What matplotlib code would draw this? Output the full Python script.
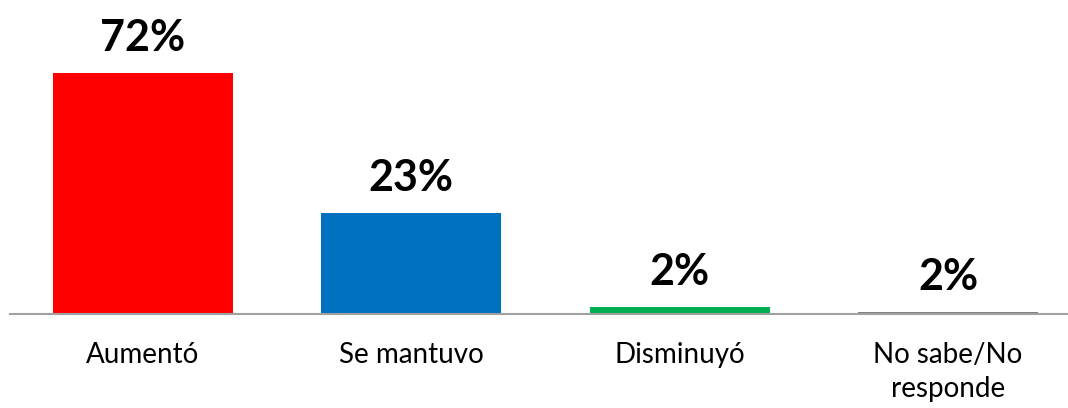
import matplotlib
matplotlib.use("Agg")
import matplotlib.pyplot as plt

categories = ["Aumentó", "Se mantuvo", "Disminuyó", "No sabe/No\nresponde"]
# bar heights as drawn in the picture (percent)
heights = [72, 30.2, 2.1, 0.6]
value_labels = ["72%", "23%", "2%", "2%"]
colors = ["#ff0000", "#0070c0", "#00b050", "#808080"]

plt.rcParams["font.family"] = ["Lato", "DejaVu Sans"]

fig = plt.figure(figsize=(10.68, 4.08), dpi=100)
ax = fig.add_axes([10 / 1068, 94 / 408, 1 - 10 / 1068, 314 / 408])

x = range(len(categories))
bars = ax.bar(x, heights, width=0.67, color=colors, zorder=2)

for b, lab in zip(bars, value_labels):
    ax.annotate(lab, (b.get_x() + b.get_width() / 2, b.get_height()),
                xytext=(0, 16), textcoords="offset points",
                ha="center", va="baseline", fontsize=31, fontweight="bold")

ax.set_xlim(-0.495, 3.447)
ax.set_ylim(0, 93.8)
ax.set_xticks(list(x))
ax.set_xticklabels(categories, fontsize=20, linespacing=1.4, va="top")
ax.tick_params(axis="x", length=0, pad=20)
ax.set_yticks([])
for s in ["top", "right", "left"]:
    ax.spines[s].set_visible(False)
ax.spines["bottom"].set_color("#a0a0a0")
ax.spines["bottom"].set_linewidth(1.5)

fig.savefig("out.png", dpi=100)
